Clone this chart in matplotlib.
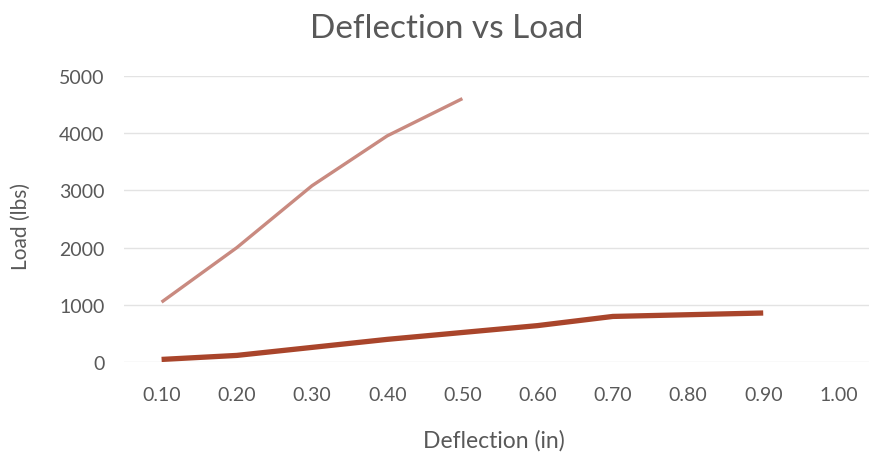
import matplotlib
matplotlib.use("Agg")
import matplotlib.pyplot as plt

# Deflection categories (in) and measured loads (lbs)
deflection = ["0.10", "0.20", "0.30", "0.40", "0.50", "0.60", "0.70", "0.80", "0.90", "1.00"]
load_a = [1050, 2000, 3080, 3950, 4600]
load_b = [50, 120, 260, 400, 520, 640, 800, 830, 860]

plt.rcParams["font.family"] = ["Lato", "DejaVu Sans"]
text_col = "#595959"

fig = plt.figure(figsize=(8.7, 4.56), dpi=100)
ax = fig.add_axes([0.1425, 0.2033, 0.8575, 0.6285])

x = list(range(len(deflection)))
ax.plot(x[:len(load_a)], load_a, color="#C98A80", lw=2.4, solid_capstyle="butt", zorder=3)
ax.plot(x[:len(load_b)], load_b, color="#A9452B", lw=3.8, solid_capstyle="butt", zorder=3)

ax.set_xlim(-0.5, 9.42)
ax.set_ylim(0, 5000)
ax.set_yticks([0, 1000, 2000, 3000, 4000, 5000])
ax.set_xticks(x)
ax.set_xticklabels(deflection)
ax.grid(axis="y", color="#E3E3E3", lw=1.0)
ax.set_axisbelow(True)
for s in ax.spines.values():
    s.set_visible(False)
ax.tick_params(length=0, labelsize=14, colors=text_col)
ax.tick_params(axis="y", pad=14)
ax.tick_params(axis="x", pad=17)

fig.text(0.568, 1 - 441 / 456, "Deflection (in)", ha="center", va="center",
         fontsize=16.5, color=text_col)
fig.text(20.5 / 870, 1 - 226 / 456, "Load (lbs)", ha="center", va="center",
         rotation=90, fontsize=15, color=text_col)
fig.text(0.514, 1 - 29 / 456, "Deflection vs Load", ha="center", va="center",
         fontsize=24, color=text_col)

fig.savefig("out.png", dpi=100, facecolor="white")
